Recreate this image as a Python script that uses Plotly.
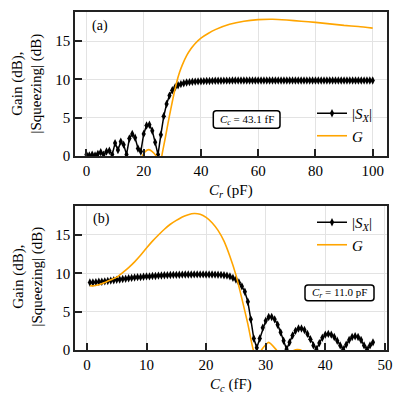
import plotly.graph_objects as go
from plotly.subplots import make_subplots

# panel (a): sweep of C_r (pF), C_c fixed
cr_sx = [0, 1, 2, 3, 4, 5, 6, 7, 8, 9,
         10, 11, 12, 13, 14, 15, 16, 17, 18, 19,
         20, 21, 22, 23, 24, 25, 26, 27, 28, 29,
         30, 31, 32, 33, 34, 35, 36, 37, 38, 39,
         40, 41, 42, 43, 44, 45, 46, 47, 48, 49,
         50, 51, 52, 53, 54, 55, 56, 57, 58, 59,
         60, 61, 62, 63, 64, 65, 66, 67, 68, 69,
         70, 71, 72, 73, 74, 75, 76, 77, 78, 79,
         80, 81, 82, 83, 84, 85, 86, 87, 88, 89,
         90, 91, 92, 93, 94, 95, 96, 97, 98, 99, 100]
sx_a = [0.2, 0.1, 0.2, 0.1, 0.3, 0.5, 0.2, 0.6, 0.7, 0.2,
        1.7, 0.8, 1.9, 1.5, 0.2, 2.3, 2.9, 2.4, 1.0, 0.6,
        2.9, 4.0, 4.1, 3.3, 1.8, 0.2, 2.8, 5.2, 6.8, 7.9,
        8.6, 9.0, 9.25, 9.4, 9.5, 9.6, 9.65, 9.7, 9.72, 9.75,
        9.77, 9.78, 9.8, 9.81, 9.82, 9.83, 9.84, 9.84, 9.85, 9.85,
        9.85, 9.86, 9.86, 9.86, 9.86, 9.87, 9.87, 9.87, 9.87, 9.87,
        9.87, 9.87, 9.87, 9.87, 9.87, 9.87, 9.87, 9.87, 9.87, 9.87,
        9.87, 9.87, 9.87, 9.87, 9.87, 9.87, 9.87, 9.87, 9.87, 9.87,
        9.87, 9.87, 9.87, 9.87, 9.87, 9.87, 9.87, 9.87, 9.87, 9.87,
        9.87, 9.87, 9.87, 9.87, 9.87, 9.87, 9.87, 9.87, 9.87, 9.87, 9.87]
cr_g = [17, 19.5, 20.5, 21.8, 23, 24.4, 25.5, 26.5, 27.5, 28.5, 29.5,
        30.5, 31.5, 32.5, 33.5, 35, 36.5, 38, 40, 42.5, 45,
        50, 55, 60, 65, 70, 75, 80, 85, 90, 95, 100]
g_a = [-2.5, 0.0, 0.6, 0.85, 0.6, 0.0, -1.8, 0.4, 2.3, 4.3, 6.2,
       8.0, 9.6, 10.9, 11.9, 13.1, 14.0, 14.7, 15.4, 16.0, 16.5,
       17.2, 17.6, 17.8, 17.85, 17.75, 17.6, 17.45, 17.25, 17.05, 16.9, 16.7]

# panel (b): sweep of C_c (fF), C_r fixed
cc_sx = [0.5, 1, 1.5, 2, 2.5, 3, 3.5, 4, 4.5, 5,
         5.5, 6, 6.5, 7, 7.5, 8, 8.5, 9, 9.5, 10,
         10.5, 11, 11.5, 12, 12.5, 13, 13.5, 14, 14.5, 15,
         15.5, 16, 16.5, 17, 17.5, 18, 18.5, 19, 19.5, 20,
         20.5, 21, 21.5, 22, 22.5, 23, 23.5, 24, 24.5, 25,
         25.5, 26, 26.5, 27, 27.5, 28, 28.5, 29, 29.5, 30,
         30.5, 31, 31.5, 32, 32.5, 33, 33.5, 34, 34.5, 35,
         35.5, 36, 36.5, 37, 37.5, 38, 38.5, 39, 39.5, 40,
         40.5, 41, 41.5, 42, 42.5, 43, 43.5, 44, 44.5, 45,
         45.5, 46, 46.5, 47, 47.5, 48]
sx_b = [8.8, 8.8, 8.85, 8.9, 8.9, 8.95, 9.0, 9.05, 9.1, 9.15,
        9.2, 9.25, 9.3, 9.35, 9.4, 9.45, 9.5, 9.5, 9.55, 9.6,
        9.6, 9.65, 9.65, 9.7, 9.72, 9.74, 9.76, 9.78, 9.8, 9.8,
        9.82, 9.83, 9.84, 9.85, 9.85, 9.86, 9.86, 9.86, 9.86, 9.85,
        9.85, 9.84, 9.83, 9.82, 9.8, 9.75, 9.7, 9.6, 9.4, 9.2,
        8.8, 8.3, 7.6, 6.3, 4.0, 1.5, 0.3, 1.5, 2.9, 3.8,
        4.3, 4.3, 4.0, 3.3, 2.3, 1.2, 0.1, 1.0, 1.9, 2.5,
        2.8, 2.8, 2.6, 2.1, 1.4, 0.6, 0.1, 0.9, 1.6, 2.0,
        2.1, 2.0, 1.7, 1.2, 0.6, 0.1, 0.7, 1.3, 1.7, 1.8,
        1.7, 1.3, 0.6, 0.1, 0.6, 1.0]
cc_g = [0.5, 1, 2, 3, 4, 5, 6, 7, 8, 9, 10, 11, 12, 13, 14, 15, 16, 17, 18, 19,
        20, 21, 22, 23, 24, 25, 26, 27, 28, 28.8, 29.3, 30.5, 31.8, 32.6,
        33.8, 34.6, 35.3, 36.1, 37, 40, 44, 48]
g_b = [8.4, 8.35, 8.5, 8.8, 9.15, 9.5, 10.1, 10.75, 11.5, 12.35, 13.3, 14.2, 15.0,
       15.75, 16.4, 16.9, 17.35, 17.65, 17.8, 17.7,
       17.3, 16.6, 15.6, 14.2, 12.2, 9.8, 6.7, 3.4, -0.2, -1.2, 0.0, 1.0, 0.0, -0.8,
       -0.5, -0.1, 0.05, -0.1, -1.0, -2.0, -2.0, -2.0]

BLACK = "#000000"
ORANGE = "#FFA500"
FONT = "Liberation Serif, Times New Roman, serif"

W, H = 406, 406
ML, MR, MT, MB = 75, 19, 12, 56
PW, PH = W - ML - MR, H - MT - MB


def px(x):
    return (x - ML) / PW


def py(y):
    return (H - MB - y) / PH


def rounded_box(x0, y0, x1, y1, r=3):
    # rounded rectangle in paper coords from pixel corners
    a0, a1 = px(x0), px(x1)
    b0, b1 = py(y1), py(y0)
    rx, ry = r / PW, r / PH
    return (f"M {a0 + rx},{b0} L {a1 - rx},{b0} Q {a1},{b0} {a1},{b0 + ry} "
            f"L {a1},{b1 - ry} Q {a1},{b1} {a1 - rx},{b1} "
            f"L {a0 + rx},{b1} Q {a0},{b1} {a0},{b1 - ry} "
            f"L {a0},{b0 + ry} Q {a0},{b0} {a0 + rx},{b0} Z")


fig = make_subplots(rows=2, cols=1, vertical_spacing=0.147)

for row, xs, ys, xg, yg, leg in [(1, cr_sx, sx_a, cr_g, g_a, "legend"),
                                 (2, cc_sx, sx_b, cc_g, g_b, "legend2")]:
    fig.add_trace(go.Scatter(x=xs, y=ys, mode="lines+markers",
                             name="|<i>S</i><sub><i>X</i></sub>|",
                             line=dict(color=BLACK, width=1.5),
                             marker=dict(symbol="diamond-tall", size=6, color=BLACK),
                             legend=leg), row=row, col=1)
    fig.add_trace(go.Scatter(x=xg, y=yg, mode="lines", name="<i>G</i>",
                             line=dict(color=ORANGE, width=1.6, shape="spline", smoothing=0.6),
                             legend=leg), row=row, col=1)

axis_style = dict(showline=True, linecolor="#222222", linewidth=1.5, mirror=True,
                  ticks="inside", ticklen=7, tickwidth=1.5, tickcolor="#222222",
                  showgrid=True, gridcolor="#e3e3e3", gridwidth=1, zeroline=False,
                  automargin=False,
                  tickfont=dict(family=FONT, size=15, color="black"))

fig.update_xaxes(**axis_style)
fig.update_yaxes(**axis_style)

fig.update_xaxes(range=[-4, 105], tickvals=[0, 20, 40, 60, 80, 100], row=1, col=1)
fig.update_xaxes(range=[-2, 50.35], tickvals=[0, 10, 20, 30, 40, 50], row=2, col=1)
fig.update_yaxes(range=[0, 18.8], tickvals=[0, 5, 10, 15])

title_font = dict(family=FONT, size=15, color="black")
annotations = [
    dict(text="(a)", x=px(90), y=py(16), xanchor="left", yanchor="top",
         font=dict(family=FONT, size=14)),
    dict(text="(b)", x=px(91), y=py(209), xanchor="left", yanchor="top",
         font=dict(family=FONT, size=14)),
    dict(text="Gain (dB),<br>|Squeezing| (dB)", x=px(27.5), y=py(84), textangle=-90,
         font=title_font),
    dict(text="Gain (dB),<br>|Squeezing| (dB)", x=px(27.5), y=py(277), textangle=-90,
         font=title_font),
    dict(text="<i>C</i><sub><i>r</i></sub> (pF)", x=px(231), y=py(191), font=title_font),
    dict(text="<i>C</i><sub><i>c</i></sub> (fF)", x=px(231), y=py(385), font=title_font),
    dict(text="<i>C</i><sub><i>c</i></sub> = 43.1 fF", x=px(246.7), y=py(119.5),
         font=dict(family=FONT, size=11)),
    dict(text="<i>C</i><sub><i>r</i></sub> = 11.0 pF", x=px(339.5), y=py(292.8),
         font=dict(family=FONT, size=11)),
]
for a in annotations:
    a.setdefault("xanchor", "center")
    a.setdefault("yanchor", "middle")
    a.update(xref="paper", yref="paper", showarrow=False)

shapes = [
    dict(type="path", path=rounded_box(213.3, 110.7, 280, 128.3), xref="paper", yref="paper",
         line=dict(color="black", width=1.5), fillcolor="white", layer="above"),
    dict(type="path", path=rounded_box(305, 285, 374, 300.7), xref="paper", yref="paper",
         line=dict(color="black", width=1.5), fillcolor="white", layer="above"),
]

fig.update_layout(
    width=W, height=H,
    margin=dict(l=ML, r=MR, t=MT, b=MB),
    plot_bgcolor="white", paper_bgcolor="white",
    font=dict(family=FONT, size=15, color="black"),
    legend=dict(x=px(377), y=py(97), xanchor="right", yanchor="top", bgcolor="rgba(0,0,0,0)",
                font=dict(family=FONT, size=15), tracegroupgap=0, itemwidth=30),
    legend2=dict(x=px(377), y=py(206), xanchor="right", yanchor="top", bgcolor="rgba(0,0,0,0)",
                 font=dict(family=FONT, size=15), tracegroupgap=0, itemwidth=30),
    annotations=annotations,
    shapes=shapes,
)

# drop the browser's default page margin so the 406x406 figure fills the window
fig.write_html("out.html", config={"displayModeBar": False},
               post_script="document.body.style.margin = '0px';")
